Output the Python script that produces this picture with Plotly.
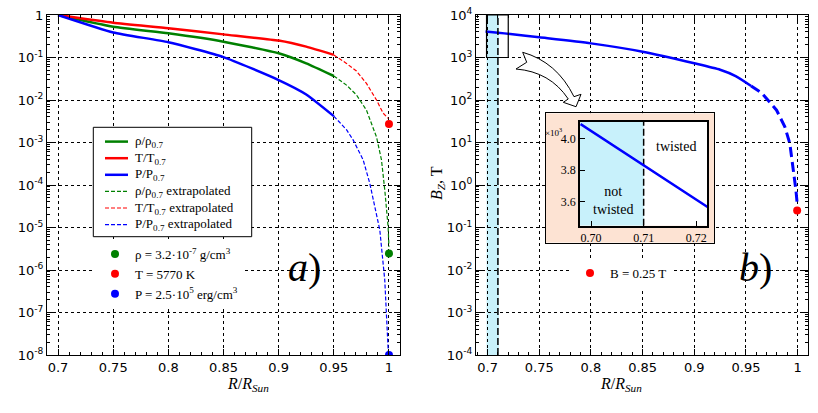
import numpy as np
import plotly.graph_objects as go

W, H = 818, 413

# ---- left panel: profiles normalised to r = 0.7 R_sun ----
r_in = [0.70, 0.75, 0.80, 0.85, 0.90, 0.925, 0.95]
rho_in = [1.0, 0.53, 0.37, 0.236, 0.126, 0.073, 0.0367]
T_in = [1.0, 0.66, 0.49, 0.35, 0.25, 0.18, 0.115]
P_in = [1.0, 0.389, 0.229, 0.102, 0.0295, 0.0135, 0.00417]

r_rho_ex = [0.95, 0.9615, 0.9705, 0.9796, 0.9887, 0.9932, 0.9962, 0.9992, 1.0]
rho_ex = [0.0367, 0.0224, 0.0132, 0.00575, 0.00135, 3.9e-4, 7.6e-5, 1.05e-5, 3.5e-6]
r_T_ex = [0.95, 0.9615, 0.9705, 0.9796, 0.9887, 0.9947, 0.9993]
T_ex = [0.115, 0.0724, 0.048, 0.0245, 0.0100, 0.0049, 0.0037]
r_P_ex = [0.95, 0.9615, 0.9675, 0.9766, 0.9826, 0.9917, 0.9962, 0.9983, 0.9995]
P_ex = [0.00417, 0.002, 0.00115, 3.9e-4, 1.1e-4, 8.7e-6, 5.75e-7, 4.7e-8, 1.0e-8]

r_surf = 1.0
rho_surf, T_surf, P_surf = 2.46e-6, 2.72e-3, 1.0e-8

# ---- right panel: B_z in T ----
r_B = [0.698, 0.71, 0.722, 0.75, 0.80, 0.85, 0.90, 0.925, 0.94, 0.955]
B = [4090, 3830, 3570, 2985, 2150, 1370, 730, 515, 365, 214]
r_B_ex = [0.955, 0.965, 0.9796, 0.9876, 0.9924, 0.9957, 0.9983, 0.9995]
B_ex = [214, 148, 57.5, 23.4, 9.5, 2.7, 0.76, 0.37]
r_B_surf, B_surf = 0.9995, 0.25

x_ticks = [0.7, 0.75, 0.8, 0.85, 0.9, 0.95, 1.0]
x_labels = ['0.7', '0.75', '0.8', '0.85', '0.9', '0.95', '1']
left_decades = list(range(-8, 1))
right_decades = list(range(-4, 5))
inset_xticks = [0.70, 0.71, 0.72]
inset_yticks = [3.6, 3.8, 4.0]

line_names = ['ρ/ρ<sub>0.7</sub>', 'T/T<sub>0.7</sub>', 'P/P<sub>0.7</sub>']
dot_names = ['ρ = 3.2·10<sup>-7</sup> g/cm<sup>3</sup>', 'T = 5770 K',
             'P = 2.5·10<sup>5</sup> erg/cm<sup>3</sup>']

GREEN, RED, BLUE = '#008000', '#ff0000', '#0000ff'
CYAN, PEACH = '#c8f1fb', '#fde3d3'
SERIF = 'Liberation Serif'
DASH = '4px,2px'
LONGDASH = '7px,3px'


def px(x):
    return x / W


def py(y):
    return 1 - y / H


def dec_label(p):
    return '1' if p == 0 else '10<sup>%d</sup>' % p


def main_axis(**kw):
    d = dict(showline=True, linecolor='black', linewidth=1.2, mirror='allticks',
             ticks='inside', ticklen=6, tickwidth=1, tickcolor='black',
             showgrid=True, gridcolor='black', griddash='dot', gridwidth=1,
             zeroline=False, automargin=False,
             tickfont=dict(family='DejaVu Sans', size=13, color='black'))
    d.update(kw)
    return d


fig = go.Figure()

# solid profiles
for y, col in zip([rho_in, T_in, P_in], [GREEN, RED, BLUE]):
    fig.add_trace(go.Scatter(x=r_in, y=y, mode='lines', showlegend=False,
                             line=dict(color=col, width=2.5, shape='spline', smoothing=0.5)))
# extrapolated
for x, y, col in zip([r_rho_ex, r_T_ex, r_P_ex], [rho_ex, T_ex, P_ex], [GREEN, RED, BLUE]):
    fig.add_trace(go.Scatter(x=x, y=y, mode='lines', showlegend=False,
                             line=dict(color=col, width=1.2, dash=DASH)))
# surface values
for y, name, col in zip([rho_surf, T_surf, P_surf], dot_names, [GREEN, RED, BLUE]):
    fig.add_trace(go.Scatter(x=[r_surf], y=[y], mode='markers', name=name,
                             marker=dict(color=col, size=8), legend='legend2'))

# right panel
fig.add_trace(go.Scatter(x=r_B, y=B, mode='lines', showlegend=False,
                         line=dict(color=BLUE, width=2.5, shape='spline', smoothing=0.6),
                         xaxis='x2', yaxis='y2'))
fig.add_trace(go.Scatter(x=r_B_ex, y=B_ex, mode='lines', showlegend=False,
                         line=dict(color=BLUE, width=3, dash='10px,5px'),
                         xaxis='x2', yaxis='y2'))
fig.add_trace(go.Scatter(x=[r_B_surf], y=[B_surf], mode='markers', name='B = 0.25 T',
                         marker=dict(color=RED, size=8), xaxis='x2', yaxis='y2',
                         legend='legend3'))

# inset (units of 10^3 T)
fig.add_trace(go.Scatter(x=r_B, y=np.array(B) / 1000.0, mode='lines', showlegend=False,
                         line=dict(color=BLUE, width=2.5), xaxis='x4', yaxis='y4'))

xl = [px(47), px(400)]
xr = [px(476), px(808)]
yd = [py(355), py(15)]
minor_x = dict(ticks='inside', ticklen=3, dtick=0.01, tick0=0.7, tickcolor='black')
minor_y = dict(ticks='inside', ticklen=3, dtick='D1', tickcolor='black')
plain = dict(showline=True, mirror=True, linecolor='black', showgrid=False,
             zeroline=False, automargin=False)
inset_font = dict(family=SERIF, size=12, color='black')

fig.update_layout(
    width=W, height=H,
    margin=dict(l=0, r=0, t=0, b=0, autoexpand=False),
    paper_bgcolor='white', plot_bgcolor='white',
    xaxis=main_axis(domain=xl, range=[0.69, 1.01], tickvals=x_ticks, ticktext=x_labels,
                    minor=minor_x),
    yaxis=main_axis(domain=yd, type='log', range=[-8, 0],
                    tickvals=[10.0 ** p for p in left_decades],
                    ticktext=[dec_label(p) for p in left_decades], minor=minor_y),
    xaxis2=main_axis(domain=xr, range=[0.6888, 1.01], anchor='y2', tickvals=x_ticks,
                     ticktext=x_labels, minor=minor_x),
    yaxis2=main_axis(domain=yd, type='log', range=[-4, 4], anchor='x2',
                     tickvals=[10.0 ** p for p in right_decades],
                     ticktext=['10<sup>%d</sup>' % p for p in right_decades], minor=minor_y),
    # peach frame behind the inset
    xaxis3=dict(plain, domain=[px(546), px(714)], range=[0, 1], anchor='y3', linewidth=1,
                showticklabels=False, ticks=''),
    yaxis3=dict(plain, domain=[py(242.7), py(113.3)], range=[0, 1], anchor='x3', linewidth=1,
                showticklabels=False, ticks=''),
    xaxis4=dict(plain, domain=[px(580), px(707.3)], range=[0.6979, 0.7221], anchor='y4',
                linewidth=1.5, ticks='inside', ticklen=5, tickcolor='black',
                tickvals=inset_xticks, ticktext=['%.2f' % v for v in inset_xticks],
                tickfont=inset_font),
    yaxis4=dict(plain, domain=[py(225.7), py(121.7)], range=[3.449, 4.105], anchor='x4',
                linewidth=1.5, ticks='inside', ticklen=5, tickcolor='black',
                tickvals=inset_yticks, ticktext=['%.1f' % v for v in inset_yticks],
                tickfont=inset_font),
    legend2=dict(x=px(95), y=py(239), xanchor='left', yanchor='top',
                 bgcolor='white', borderwidth=0, tracegroupgap=0,
                 font=dict(family=SERIF, size=13, color='black')),
    legend3=dict(x=px(570), y=py(258), xanchor='left', yanchor='top',
                 bgcolor='white', borderwidth=0,
                 font=dict(family=SERIF, size=13, color='black')),
    showlegend=True,
)

# boxed legend of the profile lines (drawn by hand to keep matplotlib spacing)
fig.add_shape(type='rect', xref='paper', yref='paper', x0=px(93.3), x1=px(251.7),
              y0=py(236.7), y1=py(127.3), fillcolor='white',
              line=dict(color='black', width=1), layer='above')
entries = [(n, c, 2.5, 'solid') for n, c in zip(line_names, [GREEN, RED, BLUE])]
entries += [(n + ' extrapolated', c, 1.2, DASH) for n, c in zip(line_names, [GREEN, RED, BLUE])]
for i, (name, col, lw, dash) in enumerate(entries):
    yy = 141.6 + 16.6 * i
    fig.add_shape(type='line', xref='paper', yref='paper', x0=px(105), x1=px(128),
                  y0=py(yy), y1=py(yy), line=dict(color=col, width=lw, dash=dash),
                  layer='above')
    fig.add_annotation(x=px(133), y=py(yy), xref='paper', yref='paper', showarrow=False,
                       xanchor='left', yanchor='middle', text=name,
                       font=dict(family=SERIF, size=13, color='black'))

# shaded "not twisted" layer and zoom box
fig.add_shape(type='rect', xref='x2', yref='y2', x0=0.699, x1=0.711, y0=1e-4, y1=1e4,
              fillcolor=CYAN, line=dict(width=0), layer='below')
fig.add_shape(type='line', xref='x2', yref='y2', x0=0.71, x1=0.71, y0=1e-4, y1=1e4,
              line=dict(color='black', width=1.5, dash=LONGDASH), layer='above')
fig.add_shape(type='rect', xref='x2', yref='y2', x0=0.699, x1=0.72, y0=1e3, y1=1e4,
              line=dict(color='black', width=1.2), layer='above')
fig.add_shape(type='rect', xref='x3', yref='y3', x0=0, x1=1, y0=0, y1=1,
              fillcolor=PEACH, line=dict(width=0), layer='below')
fig.add_shape(type='rect', xref='x4', yref='y4', x0=0.6979, x1=0.71, y0=3.449, y1=4.105,
              fillcolor=CYAN, line=dict(width=0), layer='below')
fig.add_shape(type='line', xref='x4', yref='y4', x0=0.71, x1=0.71, y0=3.449, y1=4.105,
              line=dict(color='black', width=1.5, dash=LONGDASH), layer='below')

# hollow curved arrow from the zoom box to the inset
pts = [(522.7, 52.3), (526.7, 62.3), (516, 69)]
arrow = 'M %.4f %.4f L %.4f %.4f L %.4f %.4f ' % (px(pts[0][0]), py(pts[0][1]),
                                                 px(pts[1][0]), py(pts[1][1]),
                                                 px(pts[2][0]), py(pts[2][1]))
arrow += 'Q %.4f %.4f %.4f %.4f ' % (px(550), py(71.7), px(568.3), py(99))
arrow += 'L %.4f %.4f L %.4f %.4f L %.4f %.4f L %.4f %.4f ' % (
    px(563.3), py(102.3), px(576), py(106.7), px(581), py(94.3), px(574), py(96.7))
arrow += 'Q %.4f %.4f %.4f %.4f Z' % (px(557), py(62), px(522.7), py(52.3))
fig.add_shape(type='path', xref='paper', yref='paper', path=arrow,
              fillcolor='white', line=dict(color='black', width=1), layer='above')

# axis titles and panel labels
xtitle = '<i>R</i>/<i>R</i><sub><i>Sun</i></sub>'
title_font = dict(family=SERIF, size=16, color='black')
fig.add_annotation(x=px(225), y=py(396), xref='paper', yref='paper', showarrow=False,
                   text=xtitle, font=title_font)
fig.add_annotation(x=px(643.5), y=py(396), xref='paper', yref='paper', showarrow=False,
                   text=xtitle, font=title_font)
fig.add_annotation(x=px(438), y=py(183), xref='paper', yref='paper', showarrow=False,
                   text='<i>B</i><sub><i>Z</i></sub>, T', textangle=-90, font=title_font)
fig.add_annotation(x=px(304), y=py(292), xref='paper', yref='paper', showarrow=False,
                   text='<i>a</i>)', font=dict(family=SERIF, size=40, color='black'))
fig.add_annotation(x=px(774), y=py(292), xref='paper', yref='paper', showarrow=False,
                   text='<i>b</i>)', font=dict(family=SERIF, size=40, color='black'))
fig.add_annotation(x=px(564), y=py(124), xref='paper', yref='paper', showarrow=False,
                   text='×10<sup>3</sup>', font=dict(family=SERIF, size=9, color='black'))
fig.add_annotation(x=0.7162, y=3.947, xref='x4', yref='y4', showarrow=False,
                   text='twisted', font=dict(family=SERIF, size=14, color='black'))
fig.add_annotation(x=0.7041, y=3.61, xref='x4', yref='y4', showarrow=False,
                   text='not<br>twisted', font=dict(family=SERIF, size=14, color='black'))

# the page body otherwise keeps the browser's default 8px margin
fig.write_html("out.html", config={'displayModeBar': False},
               post_script="document.body.style.margin = '0';")
